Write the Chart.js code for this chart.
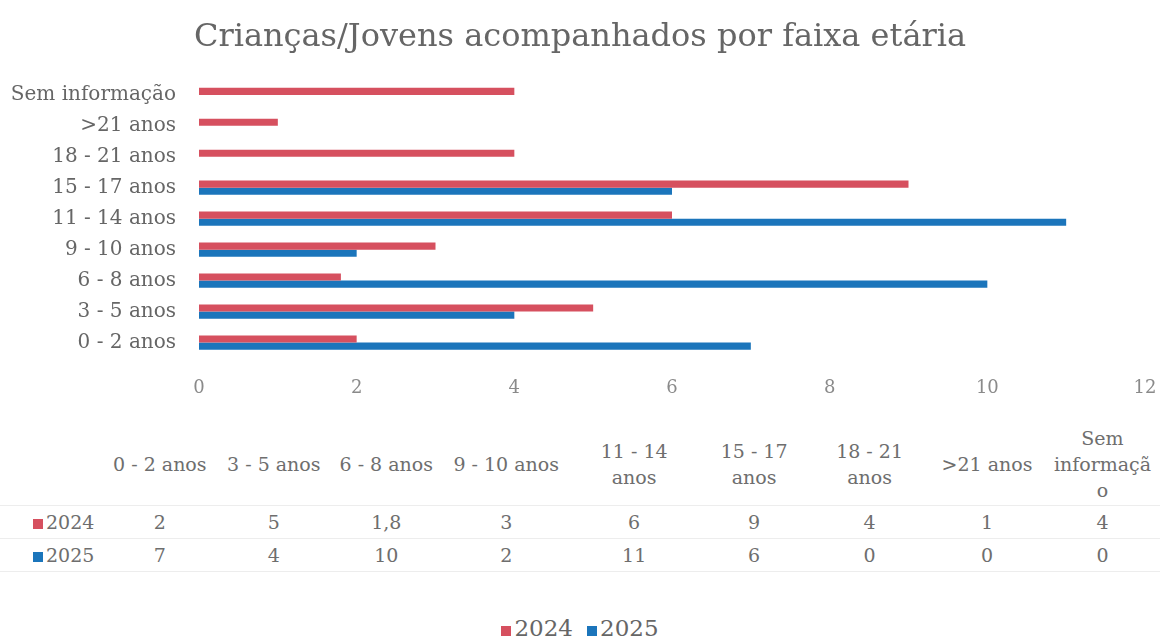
<!DOCTYPE html>
<html>
<head>
<meta charset="utf-8">
<script src="https://cdn.jsdelivr.net/npm/chart.js@4"></script>
<style>
  body { margin: 0; background: #fff; font-family: "DejaVu Serif", serif; color: #595959; }
  #wrap { position: absolute; left: 0; top: 0; width: 1160px; height: 400px; }
  #dados { position: absolute; left: 0; top: 408px; border-collapse: collapse; table-layout: fixed; font-size: 19px; color: #6e6e6e; }
  #dados td { text-align: center; padding: 0 8px; line-height: 26px; border-bottom: 1px solid #ededed; overflow-wrap: anywhere; }
  #dados tr.cab td { height: 83px; padding-top: 14px; vertical-align: middle; }
  #dados tr.val td { height: 32px; }
  #dados td.serie { text-align: left; padding-left: 33px; white-space: nowrap; overflow-wrap: normal; }
  .quad { display: inline-block; width: 10px; height: 10px; margin-right: 3px; }
  #legenda { position: absolute; left: 0; top: 615px; width: 1160px; text-align: center; font-size: 23px; color: #666; }
  #legenda span.item { margin: 0 7px; }
</style>
</head>
<body>
<div id="wrap"><canvas id="chart"></canvas></div>
<table id="dados"></table>
<div id="legenda"></div>
<script>
const categorias = ['0 - 2 anos', '3 - 5 anos', '6 - 8 anos', '9 - 10 anos', '11 - 14 anos', '15 - 17 anos', '18 - 21 anos', '>21 anos', 'Sem informação'];
const valores2024 = [2, 5, 1.8, 3, 6, 9, 4, 1, 4];
const valores2025 = [7, 4, 10, 2, 11, 6, 0, 0, 0];
const series = ['2024', '2025'];
const cores = ['#d6505f', '#1b75bb'];
const xMin = 0, xMax = 12, xPasso = 2;

const ctx = document.getElementById("chart").getContext("2d");

const myChart = new Chart(ctx, {
    type: 'bar',
    data: {
        labels: categorias,
        datasets: [
            { label: series[0], data: valores2024, backgroundColor: cores[0] },
            { label: series[1], data: valores2025, backgroundColor: cores[1] }
        ]
    },
    options: {
        indexAxis: 'y',
        responsive: true,
        maintainAspectRatio: false,
        animation: false,
        categoryPercentage: 0.46,
        barPercentage: 1,
        layout: { padding: 0 },
        scales: {
            x: {
                min: xMin,
                max: xMax,
                ticks: { stepSize: xPasso, color: '#8a8a8a', padding: 12, font: { family: 'DejaVu Serif', size: 18 } },
                grid: { display: false },
                border: { display: false },
                afterFit: (s) => { s.height = 42; s.paddingRight = 15; }
            },
            y: {
                reverse: true,
                ticks: { autoSkip: false, color: '#666', padding: 15, font: { family: 'DejaVu Serif', size: 20 } },
                grid: { display: false },
                border: { display: false },
                afterFit: (s) => { s.width = 199; }
            }
        },
        plugins: {
            legend: { display: false },
            tooltip: { enabled: false },
            title: {
                display: true,
                text: 'Crianças/Jovens acompanhados por faixa etária',
                color: '#666',
                font: { family: 'DejaVu Serif', size: 32, weight: 'normal' },
                lineHeight: 1.2,
                padding: { top: 18, bottom: 23 }
            }
        }
    }
});

// tabela de dados
const larguras = [95, 115, 113, 112, 128, 128, 112, 119, 116, 115];
const tabela = document.getElementById('dados');
const cg = document.createElement('colgroup');
larguras.forEach(w => { const c = document.createElement('col'); c.style.width = w + 'px'; cg.appendChild(c); });
tabela.appendChild(cg);

const cab = document.createElement('tr');
cab.className = 'cab';
cab.appendChild(document.createElement('td'));
categorias.forEach(c => { const td = document.createElement('td'); td.textContent = c; cab.appendChild(td); });
tabela.appendChild(cab);

[valores2024, valores2025].forEach((vals, i) => {
    const tr = document.createElement('tr');
    tr.className = 'val';
    const th = document.createElement('td');
    th.className = 'serie';
    th.innerHTML = '<span class="quad" style="background:' + cores[i] + '"></span>' + series[i];
    tr.appendChild(th);
    vals.forEach(v => { const td = document.createElement('td'); td.textContent = String(v).replace('.', ','); tr.appendChild(td); });
    tabela.appendChild(tr);
});

// legenda
document.getElementById('legenda').innerHTML = series.map((s, i) =>
    '<span class="item"><span class="quad" style="background:' + cores[i] + '"></span>' + s + '</span>').join('');
</script>
</body>
</html>
